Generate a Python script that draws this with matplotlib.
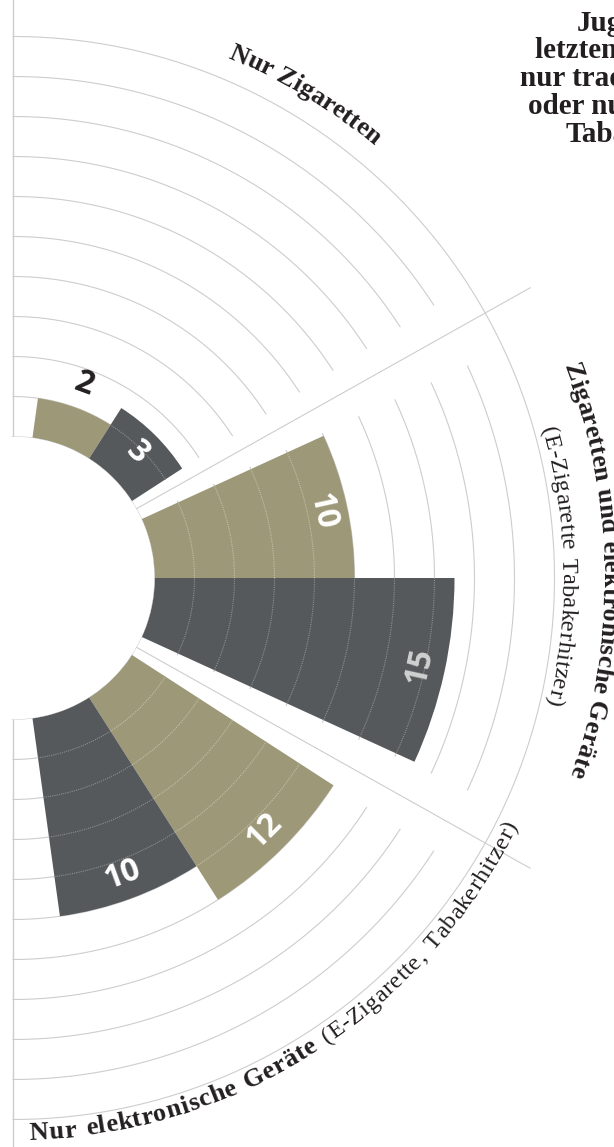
import numpy as np
import matplotlib.pyplot as plt
from matplotlib.font_manager import FontProperties, findfont, get_font
try:
    from matplotlib.ft2font import LoadFlags
    NOHINT = LoadFlags.NO_HINTING
except ImportError:
    from matplotlib.ft2font import LOAD_NO_HINTING as NOHINT

# data
categories = ["Nur Zigaretten", "Zigaretten und elektronische Geräte", "Nur elektronische Geräte"]
khaki_vals = [2, 10, 12]
dark_vals = [3, 15, 10]
title_lines = ["Jugendliche", "letzten 30 Tagen", "nur traditionelle", "oder nur neue", "Tabakprodukte"]

W, H, DPI = 614, 1147, 100
cx, cy = 13, 578          # centre of the half circle (px, from top left)
px_unit = 20.0            # px per value unit
hole = 141.5              # px radius of the white hole
rmax = 24.0
rorg = -hole / px_unit
R = (rmax - rorg) * px_unit

khaki = "#9d9878"
dark = "#56595b"
ring_c = "#cdcdcd"
ink = "#231f20"

fig = plt.figure(figsize=(W / DPI, H / DPI), dpi=DPI)
ax = fig.add_axes([(cx - R) / W, (H - cy - R) / H, 2 * R / W, 2 * R / H], projection="polar")
ax.set_ylim(0, rmax)
ax.set_rorigin(rorg)
ax.axis("off")


def val(rpx):
    return (rpx - hole) / px_unit


def arc(a, b, r, **kw):
    t = np.radians(np.linspace(a, b, 300))
    ax.plot(t, np.full_like(t, r), **kw)


# rings
ring_vals = list(range(2, 20, 2))
ring_spans = [(33, 90), (-25, 25), (-90, -33)]
for v in ring_vals:
    for a, b in ring_spans:
        arc(a, b, v, color=ring_c, lw=0.8, zorder=1)
arc(-90, 90, 20, color=ring_c, lw=0.8, zorder=1)

for d in (29.3, -29.3):
    ax.plot([np.radians(d)] * 2, [0, val(593)], color=ring_c, lw=0.8, zorder=1)
for d in (90, -90):
    ax.plot([np.radians(d)] * 2, [0, rmax], color=ring_c, lw=1.0, zorder=1)

# bars
group_c = [57.5, 0, -57.5]
bw = 24.6
th_k = [c + bw / 2 for c in group_c]
th_d = [c - bw / 2 for c in group_c]
ax.bar(np.radians(th_k), khaki_vals, width=np.radians(bw), bottom=0, color=khaki, lw=0, zorder=2)
ax.bar(np.radians(th_d), dark_vals, width=np.radians(bw), bottom=0, color=dark, lw=0, zorder=2)

for th, vals, lc in ((th_k, khaki_vals, "#c4c0a6"), (th_d, dark_vals, "#8c9092")):
    for t, v in zip(th, vals):
        for rv in ring_vals:
            if rv < v:
                arc(t - bw / 2, t + bw / 2, rv, color=lc, lw=0.8, ls=(0, (1, 1)), zorder=3)

arc(-90, 90, -0.06, color="#c2c2c2", lw=2.2, zorder=4)

# value labels
num_font = dict(family="Open Sans", weight="bold", size=23)
for th, vals, cols in ((th_k, khaki_vals, ["white"] * 3), (th_d, dark_vals, ["white", "#cfd0d0", "white"])):
    for t, v, c in zip(th, vals, cols):
        rpx = hole + px_unit * v
        if v < 3:
            rpx += 25
            c = ink
        else:
            rpx -= 25
        rot = t - 90 if t > 0 else t + 90
        ax.text(np.radians(t), val(rpx), str(v), rotation=rot, rotation_mode="anchor",
                ha="center", va="center", color=c, zorder=5, **num_font)


def curved(segments, r_px, theta_c, span, direction):
    chars, advs, gapw = [], [], []
    for text, weight, size in segments:
        fp = FontProperties(family="Liberation Serif", weight=weight, size=size)
        font = get_font(findfont(fp))
        font.set_size(size, DPI)
        for ch in text:
            g = font.load_char(ord(ch), flags=NOHINT)
            advs.append(g.linearHoriAdvance / 65536)
            chars.append((ch, fp))
            gapw.append(4.0 if ch == " " else 1.0)
    advs = np.array(advs)
    centers = np.cumsum(advs) - advs / 2
    target = np.radians(span) * r_px
    extra = target - (centers[-1] - centers[0])
    gw = np.array(gapw[1:])
    shift = np.concatenate([[0], np.cumsum(gw / gw.sum() * extra)])
    centers = centers + shift
    mid = (centers[0] + centers[-1]) / 2
    sign = -1 if direction == "cw" else 1
    for (ch, fp), c in zip(chars, centers):
        ang = theta_c + sign * np.degrees((c - mid) / r_px)
        rot = ang - 90 if direction == "cw" else ang + 90
        ax.text(np.radians(ang), val(r_px), ch, rotation=rot, rotation_mode="anchor",
                ha="center", va="baseline", fontproperties=fp, color=ink, clip_on=False, zorder=6)


curved([(categories[0], "bold", 19)], 563, 58.75, 15.7, "cw")
curved([(categories[1], "bold", 19)], 590, 0.65, 39.1, "cw")
curved([("(E-Zigarette Tabakerhitzer)", "normal", 17.5)], 549, 1.25, 28.3, "cw")
curved([(categories[2] + " ", "bold", 19), ("(E-Zigarette, Tabakerhitzer)", "normal", 17.5)],
       562, -56.9, 60.8, "ccw")

# title (cut off at the right edge)
title_x = [577, 535, 520, 528, 566]
title_y = [31, 58, 86, 114, 142]
for s, x, y in zip(title_lines, title_x, title_y):
    fig.text(x / W, 1 - y / H, s, ha="left", va="baseline", family="Liberation Serif",
             weight="bold", size=21, color=ink)

fig.savefig("out.png", dpi=DPI)
